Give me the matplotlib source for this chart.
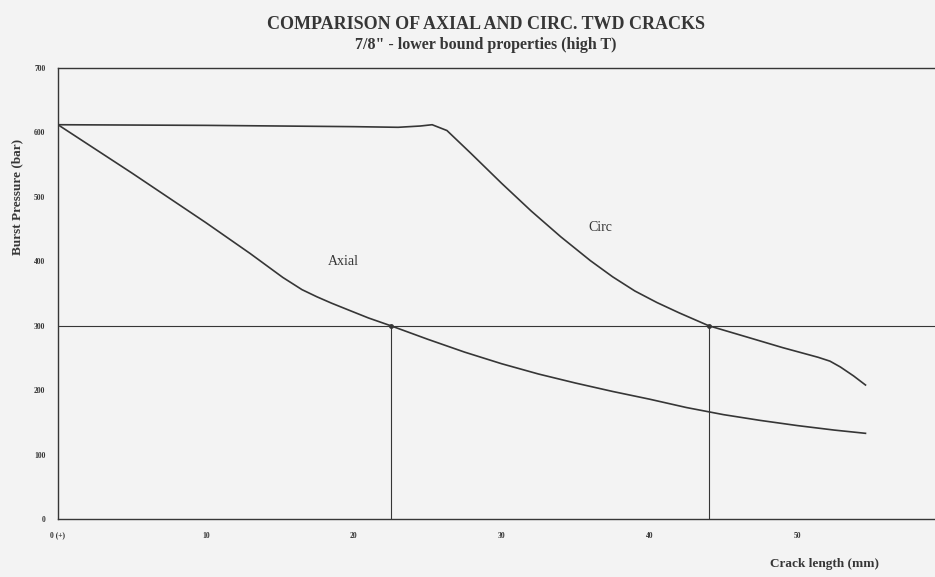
import matplotlib.pyplot as plt
import numpy as np

# Burst pressure vs crack length, 7/8" tube, lower bound properties
crack_axial = [0, 5, 10, 13, 15.2, 16.5, 17.5, 18.5, 19.8, 21, 22.5, 25, 27.5, 30, 32.5, 35,
               37.5, 40, 42.5, 45, 47.5, 50, 52.5, 54.6]
p_axial = [612, 537, 460, 412, 375, 356, 345, 335, 323, 312, 300, 279, 259, 241, 225, 211,
           198, 186, 173, 162, 153, 145, 138, 133]

crack_circ = [0, 10, 20, 23, 24.5, 25.3, 26.3, 27.9, 30, 32, 34, 36, 37.5, 39, 40.5, 42, 44,
              46.8, 49, 51.4, 52.2, 52.9, 53.8, 54.6]
p_circ = [612, 611, 609, 608, 610, 612, 603, 568, 521, 478, 438, 401, 376, 354, 336, 320, 300,
          281, 266, 251, 245, 236, 222, 208]

p_limit = 300
crack_at_limit = [22.5, 44.0]

y_ticks = [0, 100, 200, 300, 400, 500, 600, 700]
x_ticks = [0, 10, 20, 30, 40, 50]
x_tick_labels = ['0 (+)', '10', '20', '30', '40', '50']

ink = '#363636'
paper = '#f3f3f3'
plt.rcParams['font.family'] = ['Liberation Serif', 'DejaVu Serif']

fig = plt.figure(figsize=(9.35, 5.77), dpi=100, facecolor=paper)
ax = fig.add_axes([0.062, 0.1005, 0.938, 0.7816], facecolor=paper)

ax.plot(crack_axial, p_axial, color=ink, lw=1.2)
ax.plot(crack_circ, p_circ, color=ink, lw=1.2)

# 300 bar reference line and the crack lengths where each curve crosses it
ax.axhline(p_limit, color=ink, lw=0.8)
for c in crack_at_limit:
    ax.plot([c, c], [0, p_limit], color=ink, lw=0.8)
    ax.plot(c, p_limit, 'o', color=ink, ms=2.5)

ax.text(19.3, 400, 'Axial', fontsize=10, color=ink, ha='center', va='center')
ax.text(36.7, 452, 'Circ', fontsize=10, color=ink, ha='center', va='center')

ax.set_xlim(0, 59.3)
ax.set_ylim(0, 700)
ax.set_yticks(y_ticks)
ax.set_yticklabels([str(v) for v in y_ticks], fontsize=5.5, fontweight='bold', color=ink)
ax.set_xticks(x_ticks)
ax.set_xticklabels(x_tick_labels, fontsize=5.5, fontweight='bold', color=ink)
ax.tick_params(length=0, pad=9)

for side in ['left', 'bottom', 'top']:
    ax.spines[side].set_color(ink)
    ax.spines[side].set_linewidth(1.0)
ax.spines['right'].set_visible(False)

fig.text(0.019, 0.658, 'Burst Pressure (bar)', fontsize=9.5, fontweight='bold', color=ink,
         rotation=90, ha='center', va='center')
fig.text(0.882, 0.018, 'Crack length (mm)', fontsize=9.5, fontweight='bold', color=ink, ha='center')

fig.text(0.52, 0.957, 'COMPARISON OF AXIAL AND CIRC. TWD CRACKS', fontsize=13,
         fontweight='bold', color=ink, ha='center', va='center')
fig.text(0.52, 0.922, '7/8" - lower bound properties (high T)', fontsize=11.5,
         fontweight='bold', color=ink, ha='center', va='center')

fig.savefig('out.png', dpi=100, facecolor=paper)
